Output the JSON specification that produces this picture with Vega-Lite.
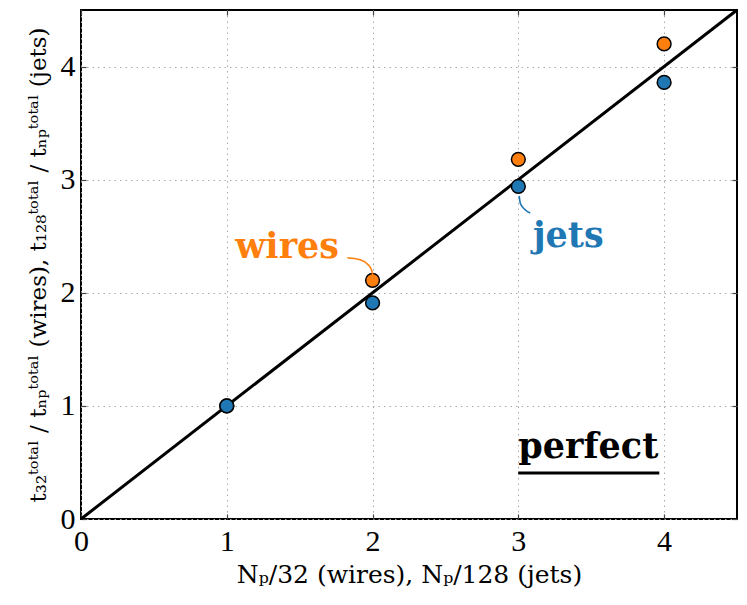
{
  "$schema": "https://vega.github.io/schema/vega-lite/v6.json",
  "description": "Speedup vs number of processes for wires and jets, with the perfect-scaling line.",
  "width": 656,
  "height": 509,
  "autosize": "none",
  "padding": {"left": 81, "top": 10, "right": 10, "bottom": 86},
  "background": "white",
  "datasets": {
    "perfect": [{"x": 0, "y": 0}, {"x": 4.5, "y": 4.5}],
    "points": [
      {"x": 1, "y": 1.0, "series": "wires"},
      {"x": 2, "y": 2.11, "series": "wires"},
      {"x": 3, "y": 3.18, "series": "wires"},
      {"x": 4, "y": 4.2, "series": "wires"},
      {"x": 1, "y": 1.0, "series": "jets"},
      {"x": 2, "y": 1.91, "series": "jets"},
      {"x": 3, "y": 2.94, "series": "jets"},
      {"x": 4, "y": 3.86, "series": "jets"}
    ],
    "connectors": [
      {"x": 1.826, "y": 2.31, "series": "wires", "o": 1},
      {"x": 1.915, "y": 2.292, "series": "wires", "o": 2},
      {"x": 1.97, "y": 2.248, "series": "wires", "o": 3},
      {"x": 1.997, "y": 2.186, "series": "wires", "o": 4},
      {"x": 2.004, "y": 2.142, "series": "wires", "o": 5},
      {"x": 3.006, "y": 2.856, "series": "jets", "o": 1},
      {"x": 3.013, "y": 2.794, "series": "jets", "o": 2},
      {"x": 3.041, "y": 2.741, "series": "jets", "o": 3},
      {"x": 3.082, "y": 2.706, "series": "jets", "o": 4}
    ],
    "labels": [
      {"x": 1.414, "y": 2.308, "label": "wires", "series": "wires"},
      {"x": 3.343, "y": 2.405, "label": "jets", "series": "jets"},
      {"x": 3.48, "y": 0.539, "label": "perfect", "series": "perfect"}
    ],
    "underline": [{"x": 2.999, "x2": 3.967, "y": 0.407}]
  },
  "layer": [
    {
      "data": {"name": "perfect"},
      "mark": {"type": "line", "color": "black", "strokeWidth": 3},
      "encoding": {
        "x": {
          "field": "x", "type": "quantitative",
          "scale": {"domain": [0, 4.5], "nice": false},
          "axis": {
            "values": [0, 1, 2, 3, 4],
            "title": "Nₚ/32 (wires), Nₚ/128 (jets)",
            "grid": true
          }
        },
        "y": {
          "field": "y", "type": "quantitative",
          "scale": {"domain": [0, 4.5], "nice": false},
          "axis": {
            "values": [0, 1, 2, 3, 4],
            "title": "t₃₂ᵗᵒᵗᵃˡ / tₙₚᵗᵒᵗᵃˡ (wires), t₁₂₈ᵗᵒᵗᵃˡ / tₙₚᵗᵒᵗᵃˡ (jets)",
            "grid": true
          }
        }
      }
    },
    {
      "data": {"name": "points"},
      "mark": {"type": "circle", "size": 190, "opacity": 1, "stroke": "black", "strokeWidth": 1.5},
      "encoding": {
        "x": {"field": "x", "type": "quantitative", "axis": {"orient": "top", "values": [0, 1, 2, 3, 4], "labels": false, "title": null, "grid": false}},
        "y": {"field": "y", "type": "quantitative", "axis": {"orient": "right", "values": [0, 1, 2, 3, 4], "labels": false, "title": null, "grid": false}},
        "color": {
          "field": "series", "type": "nominal", "legend": null,
          "scale": {"domain": ["wires", "jets", "perfect"], "range": ["#ff7f0e", "#1f77b4", "black"]}
        },
        "order": {"field": "series", "sort": "descending"}
      }
    },
    {
      "data": {"name": "connectors"},
      "mark": {"type": "line", "interpolate": "monotone", "strokeWidth": 1.6},
      "encoding": {
        "x": {"field": "x", "type": "quantitative", "axis": null},
        "y": {"field": "y", "type": "quantitative", "axis": null},
        "color": {"field": "series", "type": "nominal", "legend": null},
        "detail": {"field": "series"},
        "order": {"field": "o"}
      }
    },
    {
      "data": {"name": "labels"},
      "mark": {"type": "text", "font": "DejaVu Serif", "fontWeight": "bold", "fontSize": 35, "baseline": "alphabetic", "align": "center"},
      "encoding": {
        "x": {"field": "x", "type": "quantitative", "axis": null},
        "y": {"field": "y", "type": "quantitative", "axis": null},
        "text": {"field": "label"},
        "color": {"field": "series", "type": "nominal", "legend": null}
      }
    },
    {
      "data": {"name": "underline"},
      "mark": {"type": "rule", "color": "black", "strokeWidth": 3},
      "encoding": {
        "x": {"field": "x", "type": "quantitative", "axis": null},
        "x2": {"field": "x2"},
        "y": {"field": "y", "type": "quantitative", "axis": null}
      }
    }
  ],
  "resolve": {"axis": {"x": "independent", "y": "independent"}},
  "config": {
    "font": "Liberation Serif",
    "view": {"stroke": "black", "strokeWidth": 2},
    "axis": {
      "domain": false,
      "ticks": true,
      "tickSize": -5,
      "tickColor": "#444444",
      "tickWidth": 1.2,
      "labelFlush": false,
      "labelOverlap": false,
      "labelFont": "Liberation Serif",
      "labelFontSize": 30,
      "labelColor": "black",
      "titleFont": "DejaVu Serif",
      "titleFontWeight": "normal",
      "titleColor": "black",
      "gridColor": "#aaaaaa",
      "gridDash": [1.5, 4],
      "gridWidth": 1
    },
    "axisBottom": {"labelPadding": 12, "titlePadding": 6, "titleFontSize": 25},
    "axisLeft": {"labelPadding": 11, "titlePadding": 10, "titleFontSize": 23}
  }
}
